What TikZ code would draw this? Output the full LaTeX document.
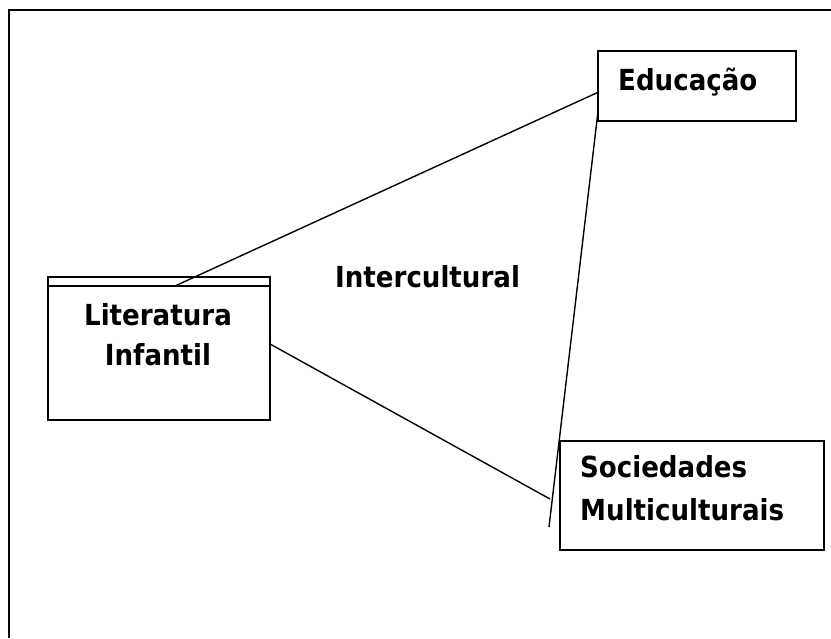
\documentclass[tikz,border=0pt]{standalone}
\usepackage{fontspec}
\newfontfamily\lblfont{DejaVu Sans Condensed}
\begin{document}
\begin{tikzpicture}[x=1pt,y=-1pt,
  boxstyle/.style={draw, line width=1.5pt, inner sep=0pt, anchor=north west},
  lbl/.style={inner sep=0pt, anchor=base west, font=\lblfont\bfseries\fontsize{29}{40}\selectfont},
  link/.style={line width=1.4pt}]
\useasboundingbox (0,0) rectangle (831,638);
% frame
\draw[line width=1.8pt] (9,638) -- (9,10) -- (831,10);
% boxes
\node[boxstyle, minimum width=198pt, minimum height=70pt] (edu) at (597,50) {};
\node[boxstyle, minimum width=222pt, minimum height=143pt] (lit) at (47,276) {};
\node[boxstyle, minimum width=264pt, minimum height=109pt] (soc) at (559,440) {};
\draw[line width=1.5pt] ([yshift=-10pt]lit.north west) -- ([yshift=-10pt]lit.north east);
% labels
\node[lbl] (tedu) at (618,90) {Educação};
\node[lbl] (tint) at (335,287) {Intercultural};
\node[lbl, anchor=base] (tlit1) at (158,325) {Literatura};
\node[lbl, anchor=base] (tlit2) at (158,365) {Infantil};
\node[lbl] (tsoc1) at (580,477) {Sociedades};
\node[lbl] (tsoc2) at (580,520) {Multiculturais};
% connectors
\coordinate (e1) at (549,527);
\coordinate (e2) at (550,499);
\draw[link] ([xshift=128pt,yshift=-10pt]lit.north west) -- ([yshift=-7pt]edu.west);
\draw[link] ([xshift=1pt,yshift=10pt]edu.south west) -- (e1);
\draw[link] ([yshift=4pt]lit.east) -- (e2);
\end{tikzpicture}
\end{document}
